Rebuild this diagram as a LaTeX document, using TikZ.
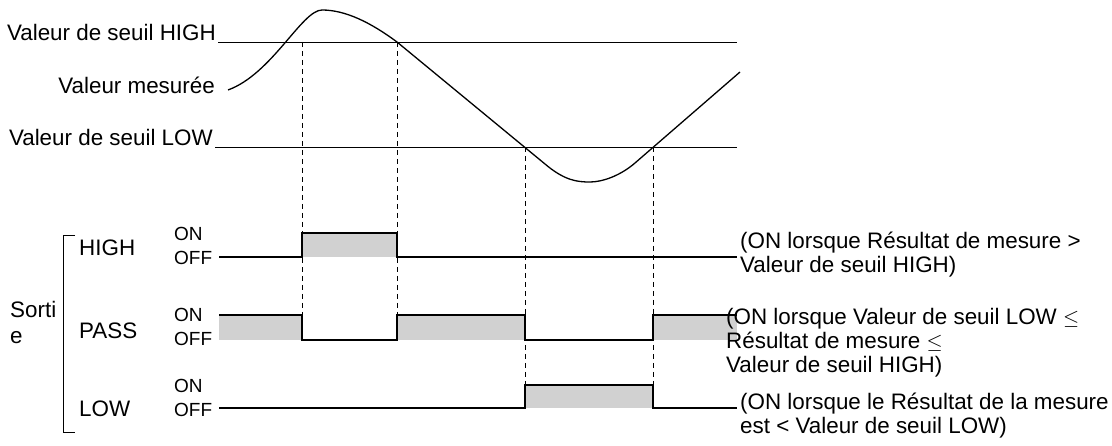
\documentclass[tikz,border=0pt]{standalone}
\usepackage{fontspec}
\setmainfont{Liberation Sans}
\begin{document}
\begin{tikzpicture}[x=1pt,y=-1pt,
  lbl/.style={inner sep=0pt,font=\fontsize{22.4}{24}\selectfont},
  sml/.style={inner sep=0pt,anchor=west,font=\fontsize{19}{20}\selectfont},
  rt/.style={inner sep=0pt,anchor=north west,align=left,font=\fontsize{22.4}{24}\selectfont},
  sig/.style={line width=1.3pt},
  dsh/.style={dash pattern=on 5pt off 4pt,line width=0.7pt},
  shade/.style={fill=black!18}]
\useasboundingbox (0,0) rectangle (1112,446);
% thresholds
\node[lbl,anchor=base east] (th) at (216,41) {Valeur de seuil HIGH};
\node[lbl,anchor=base east] (tm) at (215,94) {Valeur mesurée};
\node[lbl,anchor=base east] (tl) at (213,146) {Valeur de seuil LOW};
\coordinate (thE) at (737,42);
\coordinate (tlE) at (737,147);
\draw[line width=0.9pt] (218,42) -- (thE);
\draw[line width=0.9pt] (215,147) -- (tlE);
% curve
\draw[line width=1.3pt] (228,90) .. controls (272,74) and (302,10) .. (322,10)
  .. controls (345,10) and (370,22) .. (397,42) -- (545,164)
  .. controls (565,181) and (578,182) .. (590,182)
  .. controls (602,182) and (620,176) .. (635,163) -- (740,72);
% shading
\fill[shade] (302,233) rectangle (397,257);
\fill[shade] (219,315) rectangle (302,340);
\fill[shade] (397,315) rectangle (525,340);
\fill[shade] (653,315) rectangle (737,340);
\fill[shade] (525,385) rectangle (653,408);
% dashed
\draw[dsh] (302,42) -- (302,340);
\draw[dsh] (397,42) -- (397,315);
\draw[dsh] (525,147) -- (525,385);
\draw[dsh] (653,147) -- (653,385);
% signals
\draw[sig] (219,257) -- (302,257) -- (302,233) -- (397,233) -- (397,257) -- (737,257);
\draw[sig] (219,315) -- (302,315) -- (302,340) -- (397,340) -- (397,315) -- (525,315) -- (525,340) -- (653,340) -- (653,315) -- (737,315);
\draw[sig] (219,408) -- (525,408) -- (525,385) -- (653,385) -- (653,408) -- (737,408);
% labels
\node[lbl,anchor=base west] (h) at (79,256) {HIGH};
\node[lbl,anchor=base west] (p) at (79,339) {PASS};
\node[lbl,anchor=base west] (l) at (79,417) {LOW};
\foreach \y/\n in {234/a,315/b,386/c}{
  \node[sml] (on\n) at (174,\y) {ON};
  \node[sml] (off\n) at (174,\y+24) {OFF};
}
\node[lbl,anchor=base west] (s1) at (10,318) {Sorti};
\node[lbl,anchor=base west] (s2) at (10,344) {e};
\draw[line width=0.9pt] (75,235) -- (63,235) -- (63,432) -- (75,432);
% right texts
\node[rt] (r1) at (740,232) {(ON lorsque Résultat de mesure >\\Valeur de seuil HIGH)};
\node[rt] (r2) at (726,308) {(ON lorsque Valeur de seuil LOW $\leq$\\Résultat de mesure $\leq$\\ Valeur de seuil HIGH)};
\node[rt] (r3) at (740,393) {(ON lorsque le Résultat de la mesure\\est < Valeur de seuil LOW)};
\end{tikzpicture}
\end{document}
